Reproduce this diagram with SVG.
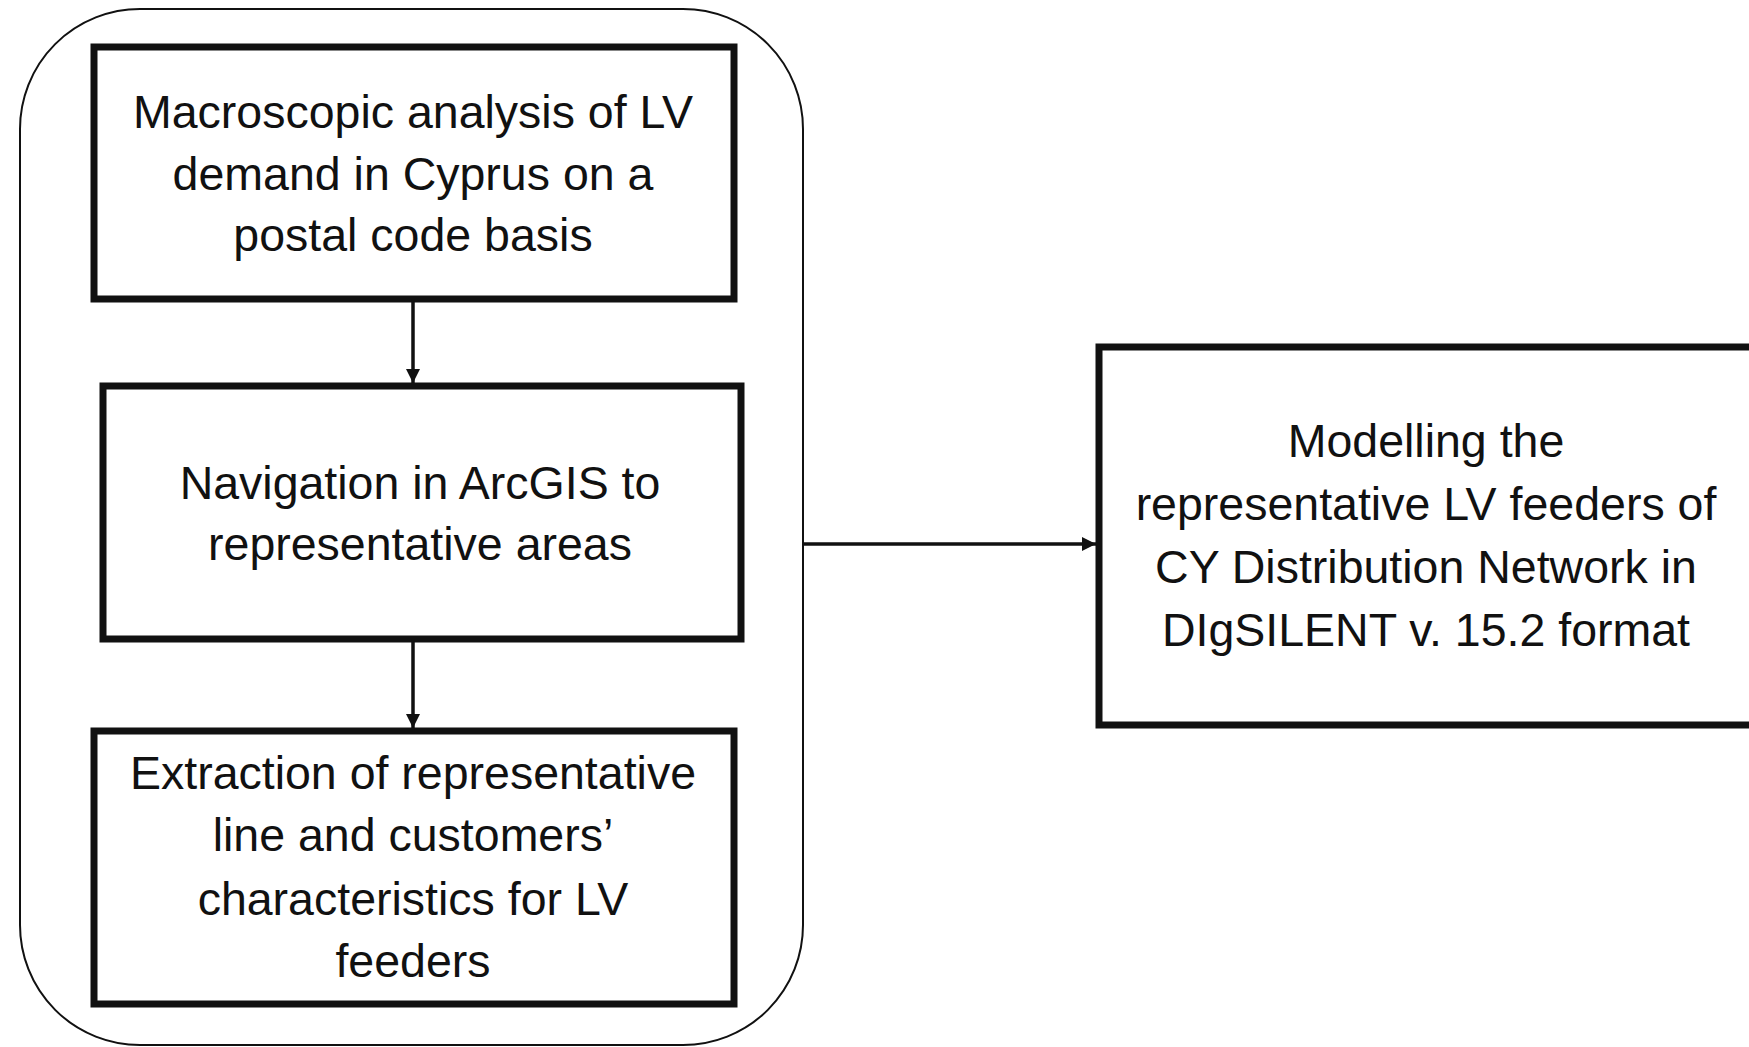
<svg xmlns="http://www.w3.org/2000/svg" width="1749" height="1047" viewBox="0 0 1749 1047">
<style>
.box{fill:#fff;stroke:#111;stroke-width:7}
.t{font-family:"Liberation Sans",Arial,sans-serif;font-size:46.5px;fill:#111;text-anchor:middle}
.c{stroke:#111;stroke-width:3.5;fill:none}
</style>
<defs>
<marker id="ah" viewBox="0 0 10 10" refX="10" refY="5" markerWidth="4.5" markerHeight="4" orient="auto" markerUnits="strokeWidth">
<path d="M0,0 L10,5 L0,10 z" fill="#111"/>
</marker>
</defs>
<rect width="1749" height="1047" fill="#fff"/>
<g id="group">
<rect x="20" y="9" width="783" height="1036" rx="120" ry="120" fill="none" stroke="#111" stroke-width="2"/>
</g>
<g id="n1">
<rect class="box" x="94" y="47" width="640" height="252"/>
<text class="t" x="413" y="128">Macroscopic analysis of LV</text>
<text class="t" x="413" y="190">demand in Cyprus on a</text>
<text class="t" x="413" y="251">postal code basis</text>
</g>
<g id="n2">
<rect class="box" x="103" y="386" width="638" height="253"/>
<text class="t" x="420" y="499">Navigation in ArcGIS to</text>
<text class="t" x="420" y="560">representative areas</text>
</g>
<g id="n3">
<rect class="box" x="94" y="731" width="640" height="273"/>
<text class="t" x="413" y="789">Extraction of representative</text>
<text class="t" x="413" y="851">line and customers’</text>
<text class="t" x="413" y="915">characteristics for LV</text>
<text class="t" x="413" y="977">feeders</text>
</g>
<g id="n4">
<rect class="box" x="1099" y="347" width="700" height="378"/>
<text class="t" x="1426" y="457">Modelling the</text>
<text class="t" x="1426" y="520">representative LV feeders of</text>
<text class="t" x="1426" y="583">CY Distribution Network in</text>
<text class="t" x="1426" y="646">DIgSILENT v. 15.2 format</text>
</g>
<g id="connectors">
<line class="c" x1="413" y1="299" x2="413" y2="383" marker-end="url(#ah)"/>
<line class="c" x1="413" y1="639" x2="413" y2="728" marker-end="url(#ah)"/>
<line class="c" x1="803" y1="544" x2="1096" y2="544" marker-end="url(#ah)"/>
</g>
</svg>
